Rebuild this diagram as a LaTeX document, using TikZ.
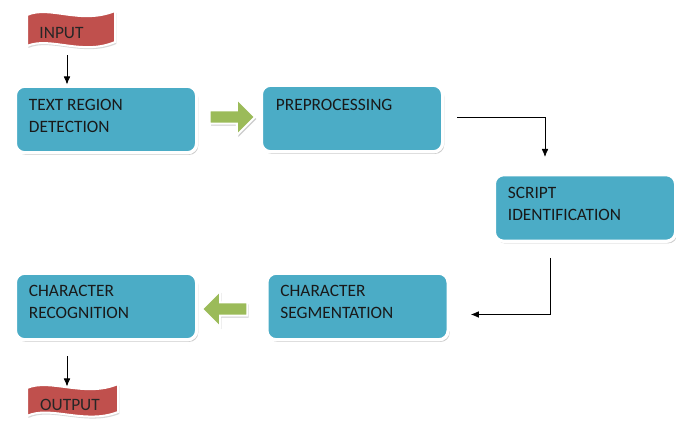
\documentclass[tikz,border=0pt]{standalone}
\usepackage{fontspec}
\setmainfont{Carlito}
\usetikzlibrary{shapes.arrows,shadows,arrows.meta}
\definecolor{boxblue}{RGB}{75,172,198}
\definecolor{flagred}{RGB}{192,80,77}
\definecolor{arrowgreen}{RGB}{155,187,89}
\tikzset{
  box/.style={draw=white,line width=2.5pt,fill=boxblue,rounded corners=7pt,minimum width=136pt,minimum height=50pt,
    drop shadow={shadow xshift=1.2pt,shadow yshift=-1.6pt,opacity=.4}},
  boxtext/.style={anchor=north west,inner sep=0pt,align=left,font=\fontsize{13}{16.5}\selectfont,text=black!90},
  flag/.style={draw=white,line width=1.5pt,fill=flagred,
    drop shadow={shadow xshift=1pt,shadow yshift=-1.5pt,opacity=.3}},
  flagtext/.style={inner sep=0pt,font=\fontsize{13}{16}\selectfont,text=black!85},
  greenarrow/.style={single arrow,single arrow head extend=8.5pt,inner sep=4.3pt,minimum height=34pt,
    fill=arrowgreen,draw=white,line width=1.5pt,drop shadow={shadow xshift=1pt,shadow yshift=-1.5pt,opacity=.4}},
  arr/.style={-{Latex[length=6pt,width=5pt]},line width=0.6pt}
}
\begin{document}
\begin{tikzpicture}[x=0.75pt,y=-0.75pt]
    \useasboundingbox (0,0) rectangle (676,423);
    \path[flag] (27,15) .. controls (50,5) and (80,25) .. (115,11) -- (115,42)
        .. controls (82,56) and (50,36) .. (27,46) -- cycle;
    \path[flag] (27,388) .. controls (50,378) and (85,398) .. (118,384) -- (118,412)
        .. controls (85,425) and (50,405) .. (27,416) -- cycle;
    \node[flagtext] (inp) at (61.5,33) {INPUT};
    \node[flagtext] (outp) at (70,405) {OUTPUT};
    \node[box] (trd) at (106,119.5) {};
    \node[box] (pre) at (352,118.5) {};
    \node[box] (scr) at (585,208) {};
    \node[box] (seg) at (357.5,306.5) {};
    \node[box] (rec) at (106,306.5) {};
    \node[boxtext] (trd-t) at ([shift={(15,14.5)}]trd.north west) {TEXT REGION\\DETECTION};
    \node[boxtext] (pre-t) at ([shift={(16,15)}]pre.north west) {PREPROCESSING};
    \node[boxtext] (scr-t) at ([shift={(15,14)}]scr.north west) {SCRIPT\\IDENTIFICATION};
    \node[boxtext] (seg-t) at ([shift={(15,13)}]seg.north west) {CHARACTER\\SEGMENTATION};
    \node[boxtext] (rec-t) at ([shift={(15,13)}]rec.north west) {CHARACTER\\RECOGNITION};
    \node[greenarrow] (ga1) at (229,117) {};
    \node[greenarrow,shape border rotate=180] (ga2) at (228,309) {};
    \draw[arr] ([shift={(-39,-29)}]trd.north) -- ([shift={(-39,0)}]trd.north);
    \draw[arr] ([shift={(13,-1)}]pre.east) -| ([shift={(-40,-16)}]scr.north);
    \draw[arr] ([shift={(-35,15)}]scr.south) |- ([shift={(21,8)}]seg.east);
    \draw[arr] ([shift={(-39,15)}]rec.south) -- ([shift={(-39,45)}]rec.south);
\end{tikzpicture}
\end{document}
